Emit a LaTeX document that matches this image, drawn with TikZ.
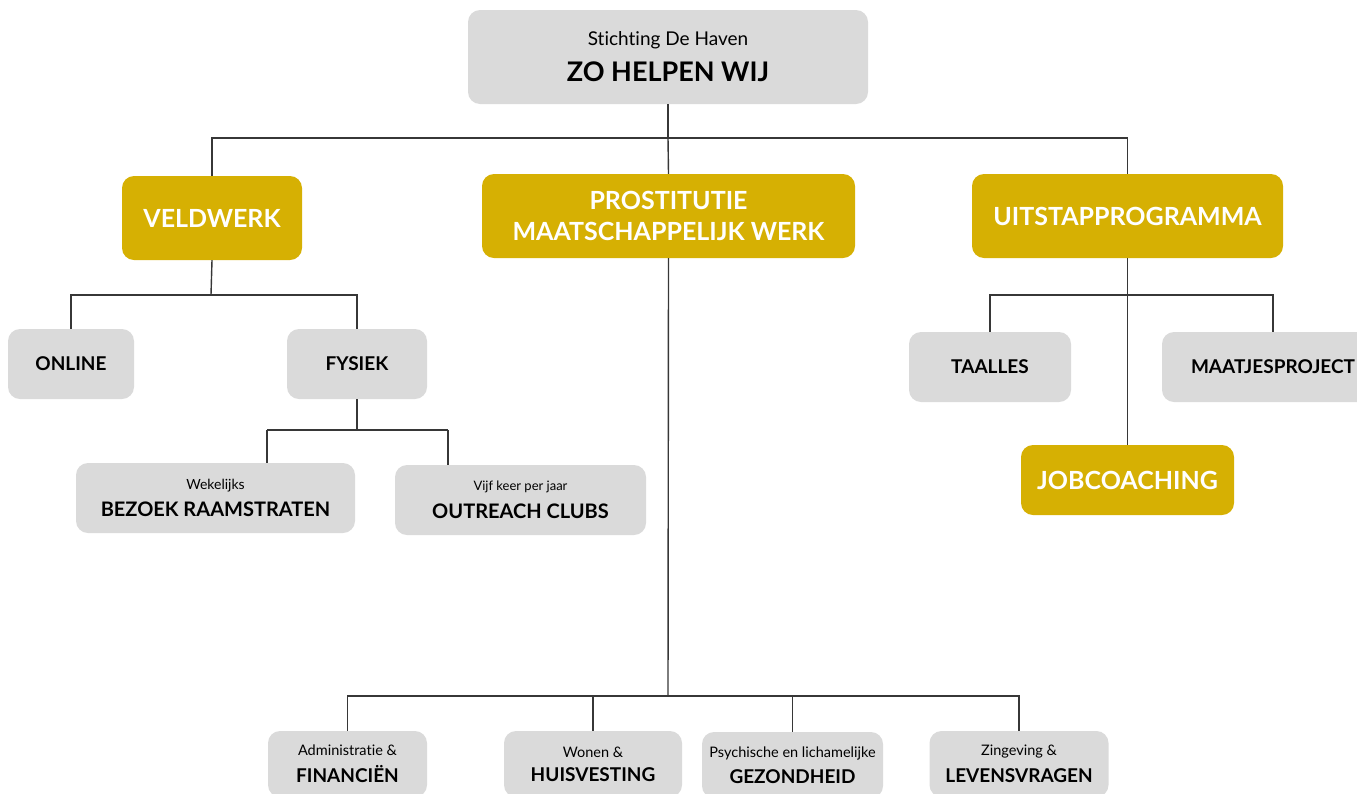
\documentclass[tikz,border=0pt]{standalone}
\usepackage{fontspec}
\setmainfont[Ligatures=NoCommon]{Lato}
\usetikzlibrary{positioning}

\definecolor{haven}{RGB}{214,176,3}
\definecolor{grijs}{RGB}{218,218,218}
\definecolor{lijn}{RGB}{55,55,55}

\newcommand{\onder}[1]{{\fontsize{14.5}{15}\selectfont #1}}
\newcommand{\boven}[1]{{\bfseries\fontsize{19}{22}\selectfont #1}}

\tikzset{
  maat/.style 2 args={minimum width=#1pt, minimum height=#2pt},
  goud/.style={fill=haven, rounded corners=12pt, inner sep=0pt, align=center,
    text=white, font=\bfseries\fontsize{25}{31}\selectfont},
  vak/.style={fill=grijs, rounded corners=12pt, inner sep=0pt, align=center,
    text=black},
  tak/.style={draw=lijn, line width=1.4pt}
}

\begin{document}
\begin{tikzpicture}[x=1pt,y=-1pt]
  \useasboundingbox (0,0) rectangle (1357,793);
  \clip (0,0) rectangle (1357,793);

  % top
  \node[vak, maat={400}{94}] (top) at (668,57)
    {{\fontsize{19}{20}\selectfont Stichting De Haven}\\[12pt]
     {\bfseries\fontsize{27}{28}\selectfont ZO HELPEN WIJ}};

  % main branches
  \node[goud, maat={180}{84}] (veld) at (212,218) {VELDWERK};
  \node[goud, maat={373}{84}] (pmw) at (668.5,216) {PROSTITUTIE\\MAATSCHAPPELIJK WERK};
  \node[goud, maat={311}{84}] (uit) at (1127.5,216) {UITSTAPPROGRAMMA};

  \coordinate (bar1) at (668,138);
  \draw[tak] (top) -- (bar1);
  \draw[tak] (veld.north) |- (bar1) -| (uit.north);
  \draw[tak] (bar1) -- (pmw.north);

  % veldwerk
  \node[vak, maat={126}{70}] (online) at (71,364) {\boven{ONLINE}};
  \node[vak, maat={140}{70}] (fysiek) at (357,364) {\boven{FYSIEK}};
  \coordinate (bar2) at (211,295);
  \draw[tak] (veld.south) -- (bar2);
  \draw[tak] (online.north) |- (bar2) -| (fysiek.north);

  \node[vak, maat={279}{70}] (bezoek) at (215.5,498)
    {{\fontsize{14}{15}\selectfont Wekelijks}\\[9pt]{\bfseries\fontsize{20}{22}\selectfont BEZOEK RAAMSTRATEN}};
  \node[vak, maat={251}{70}] (outreach) at (520.5,500)
    {{\fontsize{13}{14}\selectfont Vijf keer per jaar}\\[10pt]{\bfseries\fontsize{20}{22}\selectfont OUTREACH CLUBS}};
  \coordinate (bar3) at (357,430);
  \coordinate (b3l) at (267,430);
  \coordinate (b3r) at (448,430);
  \draw[tak] (fysiek.south) -- (bar3);
  \draw[tak] (b3l) -- (b3r);
  \draw[tak] (b3l) -- (b3l |- bezoek.north);
  \draw[tak] (b3r) -- (b3r |- outreach.north);

  % maatschappelijk werk
  \node[vak, maat={159}{66}] (fin) at (347.5,764)
    {\onder{Administratie \&}\\[9pt]\boven{FINANCIËN}};
  \node[vak, maat={178}{66}] (huis) at (593,764)
    {\onder{Wonen \&}\\[9pt]\boven{HUISVESTING}};
  \node[vak, maat={181}{66}] (gez) at (792.5,765)
    {\onder{Psychische en lichamelijke}\\[9pt]\boven{GEZONDHEID}};
  \node[vak, maat={179}{66}] (leven) at (1019,764)
    {\onder{Zingeving \&}\\[9pt]\boven{LEVENSVRAGEN}};
  \coordinate (bar4) at (668,696);
  \draw[tak] (pmw.south) -- (bar4);
  \draw[tak] (fin.north) |- (bar4) -| (leven.north);
  \draw[tak] (huis.north) -- (huis.north |- bar4);
  \draw[tak] (gez.north) -- (gez.north |- bar4);

  % uitstapprogramma
  \node[vak, maat={162}{70}] (taal) at (990,367) {\boven{TAALLES}};
  \node[vak, maat={222}{70}] (maatje) at (1273,367) {\boven{MAATJESPROJECT}};
  \node[goud, maat={213}{70}, font=\bfseries\fontsize{25}{28}\selectfont] (job) at (1127.5,480) {JOBCOACHING};
  \coordinate (bar5) at (1128,295);
  \draw[tak] (taal.north) |- (bar5) -| (maatje.north);
  \draw[tak] (uit.south) -- (job.north);
\end{tikzpicture}
\end{document}
